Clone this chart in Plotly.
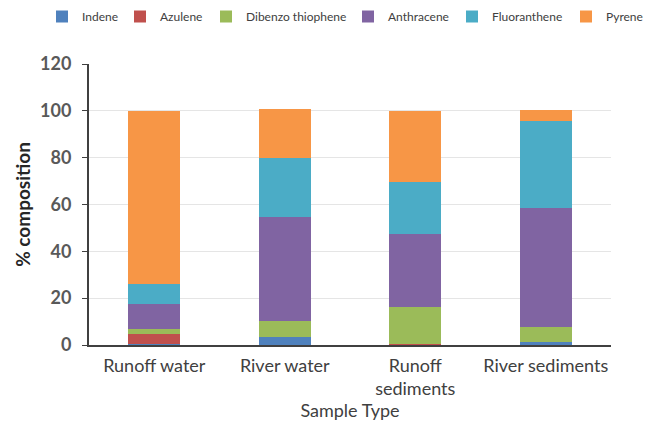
import plotly.graph_objects as go

categories = ["Runoff water", "River water", "Runoff<br>sediments", "River sediments"]
indene = [0.5, 3.4, 0.0, 1.2]
azulene = [4.0, 0.0, 0.5, 0.0]
dibenzothiophene = [2.5, 6.9, 15.7, 6.5]
anthracene = [10.5, 44.4, 31.2, 50.8]
fluoranthene = [8.5, 25.3, 22.3, 37.2]
pyrene = [74.0, 20.9, 30.3, 4.7]

series_names = ["Indene", "Azulene", "Dibenzo thiophene", "Anthracene", "Fluoranthene", "Pyrene"]
series_values = [indene, azulene, dibenzothiophene, anthracene, fluoranthene, pyrene]
series_colors = ["#4F81BD", "#C0504D", "#9BBB59", "#8064A2", "#4BACC6", "#F79646"]
legend_entry_widths = [33, 41, 97, 59, 69, 36]

PLOT_L, PLOT_R, PLOT_T, PLOT_B = 81, 603, 56, 337
W, H = 651, 423
pw = PLOT_R - PLOT_L
ph = PLOT_B - PLOT_T

fig = go.Figure()
for name, vals, col, lw in zip(series_names, series_values, series_colors, legend_entry_widths):
    fig.add_trace(go.Bar(x=categories, y=vals, name=name, marker_color=col,
                         marker_line_width=0, legendwidth=lw))

font_family = "Lato, Open Sans, sans-serif"
fig.update_layout(
    barmode="stack",
    bargap=0.6,
    width=W, height=H,
    margin=dict(l=PLOT_L, r=W - PLOT_R, t=PLOT_T, b=H - PLOT_B, autoexpand=False),
    plot_bgcolor="white", paper_bgcolor="white",
    font=dict(family=font_family, color="#595959", size=14),
    legend=dict(orientation="h", x=(34 - PLOT_L) / pw, xanchor="left",
                y=1 + (PLOT_T + 6) / ph, yanchor="top",
                font=dict(size=12, color="#404040"), itemwidth=30,
                traceorder="normal", bgcolor="rgba(0,0,0,0)"),
    xaxis=dict(showline=True, linecolor="#404040", linewidth=2, ticks="",
               tickfont=dict(size=18, color="#404040"), ticklabelstandoff=3,
               title=dict(text="Sample Type", font=dict(size=18, color="#404040"), standoff=3)),
    yaxis=dict(range=[0, 120], dtick=20, showgrid=True, gridcolor="#E5E5E5",
               showline=True, linecolor="#404040", linewidth=2, ticks="outside",
               ticklen=5, tickcolor="#404040", zeroline=False, ticklabelstandoff=7,
               tickfont=dict(size=18, color="#595959", weight="bold"),
               title=dict(text="<b>% composition</b>", font=dict(size=19, color="#262626"), standoff=4)),
)
fig.write_html("out.html")
